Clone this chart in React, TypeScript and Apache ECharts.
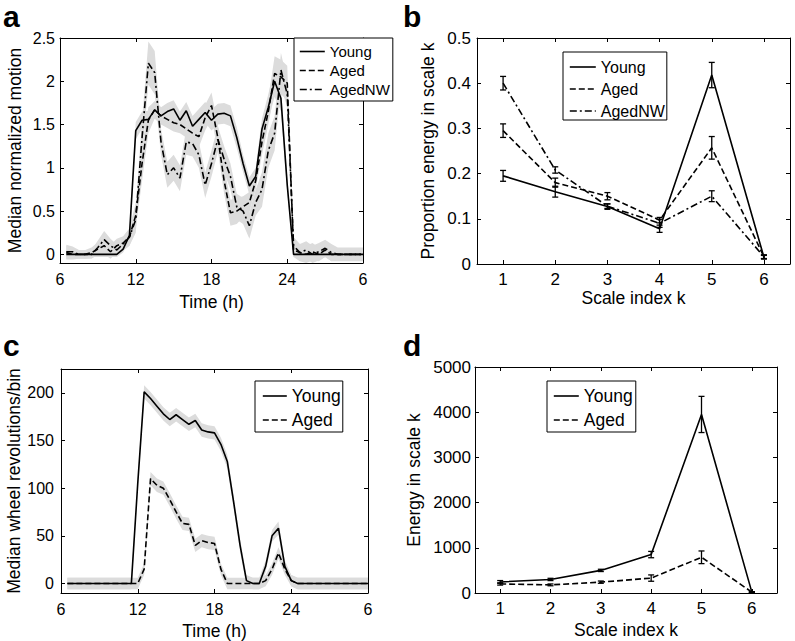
import React, { useEffect, useRef } from "react";
import * as echarts from "echarts";

const FONT = '"Liberation Sans", Arial, Helvetica, sans-serif';

// ---------- Panel a : median normalized motion ----------
const TIME = [6.5, 7, 7.5, 8, 8.5, 9, 9.5, 10, 10.5, 11, 11.5, 12, 12.5, 13, 13.5, 14, 14.5, 15, 15.5, 16, 16.5, 17, 17.5, 18, 18.5, 19, 19.5, 20, 20.5, 21, 21.5, 22, 22.5, 23, 23.5, 24, 24.5, 25, 25.5, 26, 26.5, 27, 27.5, 28, 28.5, 29, 29.5, 30];

const MOTION_YOUNG = [0, 0, 0, 0, 0, 0, 0, 0, 0,
  0.06, 0.22, 1.43, 1.55, 1.56, 1.67, 1.6, 1.65, 1.68, 1.55,
  1.66, 1.48, 1.56, 1.64, 1.55, 1.62, 1.63, 1.6, 1.35, 1.05,
  0.79, 0.9, 1.45, 1.7, 2.0, 1.8, 0.8, 0, 0, 0,
  0, 0, 0, 0, 0, 0, 0, 0, 0];
const MOTION_YOUNG_ERR = [0.03, 0.03, 0.03, 0.03, 0.03, 0.03, 0.03, 0.03, 0.03,
  0.04, 0.06, 0.1, 0.1, 0.1, 0.1, 0.1, 0.1, 0.1, 0.1,
  0.1, 0.12, 0.12, 0.12, 0.12, 0.12, 0.12, 0.12, 0.12, 0.1,
  0.1, 0.1, 0.12, 0.15, 0.18, 0.15, 0.1, 0.03, 0.03, 0.03,
  0.03, 0.03, 0.03, 0.03, 0.03, 0.03, 0.03, 0.03, 0.03];

const MOTION_AGED = [0.02, 0, 0, 0, 0.02, 0.06, 0.1, 0.03, 0.1,
  0.13, 0.2, 0.45, 1.05, 1.55, 1.67, 1.6, 1.56, 1.52, 1.5,
  1.45, 1.4, 1.36, 1.58, 1.72, 1.35, 0.85, 0.48, 0.5, 0.55,
  0.6, 0.85, 1.3, 1.65, 2.09, 2.05, 1.98, 0.05, 0.02, 0,
  0.03, 0, 0.05, 0, 0, 0, 0, 0, 0];
const MOTION_AGED_ERR = [0.08, 0.06, 0.05, 0.05, 0.06, 0.08, 0.1, 0.08, 0.08,
  0.08, 0.1, 0.15, 0.2, 0.15, 0.1, 0.1, 0.1, 0.1, 0.1,
  0.1, 0.12, 0.12, 0.15, 0.15, 0.15, 0.15, 0.15, 0.15, 0.12,
  0.12, 0.1, 0.15, 0.15, 0.2, 0.2, 0.2, 0.08, 0.1, 0.1,
  0.1, 0.08, 0.08, 0.08, 0.06, 0.06, 0.06, 0.06, 0.06];

const MOTION_AGEDNW = [0.03, 0.03, 0, 0, 0, 0.08, 0.17, 0.1, 0.05,
  0.12, 0.2, 0.4, 1.35, 2.21, 2.1, 1.3, 0.92, 1.0, 0.88,
  1.3, 1.28, 1.15, 0.8, 1.05, 1.33, 1.1, 0.9, 0.55, 0.5,
  0.33, 0.6, 0.75, 1.2, 1.4, 2.13, 1.85, 0.1, 0.02, 0.05,
  0, 0.03, 0.07, 0.02, 0, 0, 0, 0, 0];
const MOTION_AGEDNW_ERR = [0.08, 0.06, 0.05, 0.05, 0.05, 0.08, 0.1, 0.08, 0.06,
  0.08, 0.1, 0.15, 0.2, 0.25, 0.25, 0.15, 0.15, 0.15, 0.15,
  0.15, 0.15, 0.15, 0.15, 0.15, 0.15, 0.15, 0.15, 0.15, 0.15,
  0.15, 0.15, 0.2, 0.2, 0.2, 0.2, 0.15, 0.1, 0.1, 0.1,
  0.1, 0.1, 0.1, 0.1, 0.08, 0.08, 0.08, 0.08, 0.08];
const MOTION_TICKS = [0, 0.5, 1, 1.5, 2, 2.5];

// ---------- Panel b : proportion energy ----------
const SCALE_K = [1, 2, 3, 4, 5, 6];
const PROP_YOUNG = [0.195, 0.16, 0.127, 0.078, 0.418, 0.015];
const PROP_YOUNG_ERR = [0.012, 0.012, 0.006, 0.008, 0.028, 0.004];
const PROP_AGED = [0.295, 0.18, 0.15, 0.097, 0.257, 0.016];
const PROP_AGED_ERR = [0.015, 0.01, 0.008, 0.006, 0.025, 0.004];
const PROP_AGEDNW = [0.4, 0.208, 0.128, 0.09, 0.15, 0.016];
const PROP_AGEDNW_ERR = [0.015, 0.007, 0.005, 0.009, 0.012, 0.004];

// ---------- Panel c : wheel revolutions ----------
const WHEEL_YOUNG = [0, 0, 0, 0, 0, 0, 0, 0, 0, 0, 0,
  105, 201, 194, 186, 178, 172, 177, 172, 167, 171, 161, 159, 158, 146, 128, 85, 40, 3, 0, 0, 18, 50, 58, 18, 3, 0,
  0, 0, 0, 0, 0, 0, 0, 0, 0, 0, 0];
const WHEEL_YOUNG_ERR = [6, 6, 6, 6, 6, 6, 6, 6, 6, 6, 6,
  6, 7, 7, 7, 7, 7, 7, 7, 7, 7, 7, 7, 7, 7, 7, 7, 7, 6, 6, 6, 6, 6, 7, 6, 6, 6,
  6, 6, 6, 6, 6, 6, 6, 6, 6, 6, 6];
const WHEEL_AGED = [0, 0, 0, 0, 0, 0, 0, 0, 0, 0, 0, 0,
  15, 110, 103, 100, 88, 75, 63, 62, 40, 45, 43, 42, 15, 0, 0, 0, 0, 0, 0, 3, 15, 32, 15, 3, 0,
  0, 0, 0, 0, 0, 0, 0, 0, 0, 0, 0];
const WHEEL_AGED_ERR = [6, 6, 6, 6, 6, 6, 6, 6, 6, 6, 6, 6,
  6, 7, 7, 7, 7, 7, 7, 7, 7, 7, 7, 7, 6, 6, 6, 6, 6, 6, 6, 6, 6, 6, 6, 6, 6,
  6, 6, 6, 6, 6, 6, 6, 6, 6, 6, 6];
const WHEEL_TICKS = [0, 50, 100, 150, 200];

// ---------- Panel d : energy ----------
const ENERGY_YOUNG = [245, 300, 500, 850, 3950, 20];
const ENERGY_YOUNG_ERR = [30, 25, 25, 70, 400, 10];
const ENERGY_AGED = [200, 180, 240, 330, 790, 20];
const ENERGY_AGED_ERR = [25, 20, 25, 70, 140, 10];

const SOLID: any = "solid";
const DASHED = [6, 3];
const DASHDOT = [7, 3, 2, 3];

function lineSeries(name: string, idx: number, xs: number[], ys: number[], type: any) {
  return {
    type: "line",
    name,
    xAxisIndex: idx,
    yAxisIndex: idx,
    data: xs.map((x, i) => [x, ys[i]]),
    symbol: "none",
    lineStyle: { color: "#000", width: 1.6, type },
    itemStyle: { color: "#000" },
    emphasis: { disabled: true },
    silent: true,
    z: 3,
  };
}

function bandSeries(idx: number, xs: number[], ys: number[], es: number[]) {
  return {
    type: "custom",
    xAxisIndex: idx,
    yAxisIndex: idx,
    silent: true,
    clip: false,
    z: 1,
    data: [[xs[0], ys[0]]],
    renderItem: (_p: any, api: any) => {
      const up = xs.map((x, i) => api.coord([x, ys[i] + es[i]]));
      const lo = xs.map((x, i) => api.coord([x, ys[i] - es[i]])).reverse();
      return {
        type: "polygon",
        shape: { points: up.concat(lo) },
        style: { fill: "#dcdcdc", stroke: "none" },
      };
    },
  };
}

function errorSeries(idx: number, xs: number[], ys: number[], es: number[]) {
  return {
    type: "custom",
    xAxisIndex: idx,
    yAxisIndex: idx,
    silent: true,
    z: 4,
    data: xs.map((x, i) => [x, ys[i], es[i]]),
    renderItem: (_p: any, api: any) => {
      const x = api.value(0);
      const m = api.value(1);
      const e = api.value(2);
      const t = api.coord([x, m + e]);
      const b = api.coord([x, m - e]);
      const w = 3;
      const st = { stroke: "#000", lineWidth: 1.3 };
      return {
        type: "group",
        children: [
          { type: "line", shape: { x1: t[0], y1: t[1], x2: b[0], y2: b[1] }, style: st },
          { type: "line", shape: { x1: t[0] - w, y1: t[1], x2: t[0] + w, y2: t[1] }, style: st },
          { type: "line", shape: { x1: b[0] - w, y1: b[1], x2: b[0] + w, y2: b[1] }, style: st },
        ],
      };
    },
  };
}

type AxCfg = {
  min: number;
  max: number;
  interval?: number;
  ticks?: number[];
  fontSize: number;
  margin: number;
  formatter?: (v: number) => string;
  name: string;
  nameGap: number;
};

function makeAxes(gi: number, c: AxCfg, main: string, mirror: string) {
  const base: any = {
    type: "value",
    gridIndex: gi,
    min: c.min,
    max: c.max,
    splitLine: { show: false },
    axisLine: { show: true, onZero: false, lineStyle: { color: "#000", width: 1 } },
  };
  if (c.interval) base.interval = c.interval;
  const tick: any = { show: true, inside: true, length: 4, lineStyle: { color: "#000", width: 1 } };
  if (c.ticks) tick.customValues = c.ticks;
  const label: any = {
    show: true,
    fontSize: c.fontSize,
    fontFamily: FONT,
    color: "#000",
    margin: c.margin,
    showMinLabel: true,
    showMaxLabel: true,
    formatter: c.formatter || ((v: number) => String(v)),
  };
  if (c.ticks) label.customValues = c.ticks;
  return [
    {
      ...base,
      position: main,
      axisTick: tick,
      axisLabel: label,
      name: c.name,
      nameLocation: "middle",
      nameGap: c.nameGap,
      nameTextStyle: { fontSize: 17.5, fontFamily: FONT, color: "#000" },
    },
    { ...base, position: mirror, axisTick: tick, axisLabel: { show: false } },
  ];
}

function legendBox(left: number, top: number, names: string[], fontSize: number, itemWidth: number, itemGap: number, padding: number[]) {
  return {
    show: true,
    left,
    top,
    orient: "vertical",
    data: names,
    selectedMode: false,
    itemWidth,
    itemHeight: 12,
    itemGap,
    padding,
    borderColor: "#000",
    borderWidth: 1,
    borderRadius: 0,
    backgroundColor: "#fff",
    itemStyle: { opacity: 0 },
    lineStyle: { width: 1.6 },
    textStyle: { fontSize, fontFamily: FONT, color: "#000" },
    z: 10,
  };
}

const timeFmt = (v: number) => String(v > 24 ? v - 24 : v);
const panelLabel = (text: string, x: number, y: number) => ({
  type: "text",
  x,
  y,
  style: { text, font: `bold 30px ${FONT}`, fill: "#000", verticalAlign: "top" },
});

export default function App() {
  const ref = useRef<HTMLDivElement>(null);
  useEffect(() => {
    if (!ref.current) return;
    const chart = echarts.init(ref.current, undefined, { renderer: "svg" });
    // axis index: panel a -> 0/1, b -> 2/3, c -> 4/5, d -> 6/7 (main / mirror)
    const xA = makeAxes(0, { min: 6, max: 30, interval: 6, fontSize: 16, margin: 8, formatter: timeFmt, name: "Time (h)", nameGap: 30 }, "bottom", "top");
    const yA = makeAxes(0, { min: -0.1, max: 2.5, ticks: MOTION_TICKS, fontSize: 16, margin: 5, name: "Median normalized motion", nameGap: 36 }, "left", "right");
    const xB = makeAxes(1, { min: 0.5, max: 6.5, ticks: SCALE_K, fontSize: 17, margin: 7, name: "Scale index k", nameGap: 24 }, "bottom", "top");
    const yB = makeAxes(1, { min: 0, max: 0.5, interval: 0.1, fontSize: 17, margin: 6, name: "Proportion energy in scale k", nameGap: 40 }, "left", "right");
    const xC = makeAxes(2, { min: 6, max: 30, interval: 6, fontSize: 16, margin: 8, formatter: timeFmt, name: "Time (h)", nameGap: 29 }, "bottom", "top");
    const yC = makeAxes(2, { min: -10, max: 225, ticks: WHEEL_TICKS, fontSize: 16, margin: 7, name: "Median wheel revolutions/bin", nameGap: 38 }, "left", "right");
    const xD = makeAxes(3, { min: 0.5, max: 6.5, ticks: SCALE_K, fontSize: 17, margin: 7, name: "Scale index k", nameGap: 28 }, "bottom", "top");
    const yD = makeAxes(3, { min: 0, max: 5000, interval: 1000, fontSize: 17, margin: 4, name: "Energy in scale k", nameGap: 52 }, "left", "right");

    const grid = (left: number, top: number, width: number, height: number) => ({
      left, top, width, height, show: false, containLabel: false, outerBoundsMode: "none",
    });

    const option: any = {
      animation: false,
      backgroundColor: "#fff",
      textStyle: { fontFamily: FONT },
      grid: [grid(60, 38, 303, 225), grid(477, 38, 313, 226), grid(61, 369, 307, 224), grid(475, 367, 302, 226)],
      xAxis: [...xA, ...xB, ...xC, ...xD],
      yAxis: [...yA, ...yB, ...yC, ...yD],
      legend: [
        legendBox(294, 38, ["Young", "Aged", "AgedNW"], 15, 25, 4, [6, 3, 4, 5]),
        legendBox(563, 52, ["Young", "Aged", "AgedNW"], 16, 26, 6, [7, 2, 1, 6]),
        legendBox(255, 381, ["Young", "Aged"], 17.5, 24, 6, [6, 2, 3, 7]),
        legendBox(547, 381, ["Young", "Aged"], 17.5, 25, 6, [6, 3, 3, 6]),
      ],
      graphic: [
        panelLabel("a", 3, 1),
        panelLabel("b", 403, 1),
        panelLabel("c", 3, 330),
        panelLabel("d", 403, 330),
      ],
      series: [
        bandSeries(0, TIME, MOTION_AGEDNW, MOTION_AGEDNW_ERR),
        bandSeries(0, TIME, MOTION_AGED, MOTION_AGED_ERR),
        bandSeries(0, TIME, MOTION_YOUNG, MOTION_YOUNG_ERR),
        lineSeries("Young", 0, TIME, MOTION_YOUNG, SOLID),
        lineSeries("Aged", 0, TIME, MOTION_AGED, DASHED),
        lineSeries("AgedNW", 0, TIME, MOTION_AGEDNW, DASHDOT),

        lineSeries("Young", 2, SCALE_K, PROP_YOUNG, SOLID),
        lineSeries("Aged", 2, SCALE_K, PROP_AGED, DASHED),
        lineSeries("AgedNW", 2, SCALE_K, PROP_AGEDNW, DASHDOT),
        errorSeries(2, SCALE_K, PROP_YOUNG, PROP_YOUNG_ERR),
        errorSeries(2, SCALE_K, PROP_AGED, PROP_AGED_ERR),
        errorSeries(2, SCALE_K, PROP_AGEDNW, PROP_AGEDNW_ERR),

        bandSeries(4, TIME, WHEEL_YOUNG, WHEEL_YOUNG_ERR),
        bandSeries(4, TIME, WHEEL_AGED, WHEEL_AGED_ERR),
        lineSeries("Young", 4, TIME, WHEEL_YOUNG, SOLID),
        lineSeries("Aged", 4, TIME, WHEEL_AGED, DASHED),

        lineSeries("Young", 6, SCALE_K, ENERGY_YOUNG, SOLID),
        lineSeries("Aged", 6, SCALE_K, ENERGY_AGED, DASHED),
        errorSeries(6, SCALE_K, ENERGY_YOUNG, ENERGY_YOUNG_ERR),
        errorSeries(6, SCALE_K, ENERGY_AGED, ENERGY_AGED_ERR),
      ],
    };
    chart.setOption(option);
    return () => chart.dispose();
  }, []);
  return <div ref={ref} style={{ position: "absolute", left: 0, top: 0, width: 795, height: 641, background: "#fff" }} />;
}
